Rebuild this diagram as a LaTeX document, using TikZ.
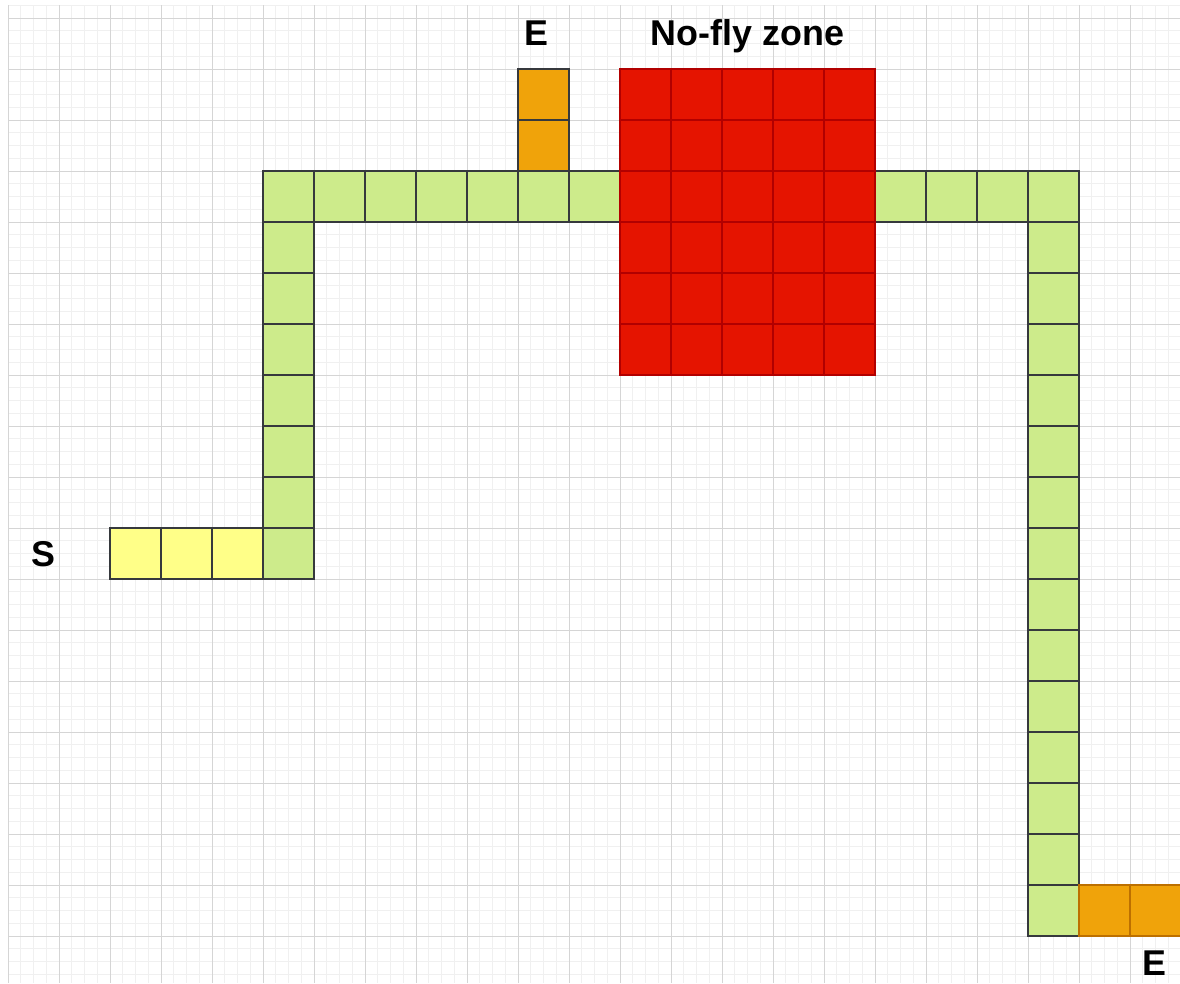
\documentclass[tikz,border=0pt]{standalone}
\usepackage{fontspec}
\setmainfont{Liberation Sans}
\usetikzlibrary{positioning}

\definecolor{pathgreen}{HTML}{CDEB8B}
\definecolor{startyellow}{HTML}{FFFF88}
\definecolor{endorange}{HTML}{F0A30A}
\definecolor{endrim}{HTML}{BD7000}
\definecolor{zonered}{HTML}{E51400}
\definecolor{zonerim}{HTML}{B20000}
\definecolor{cellrim}{HTML}{36393D}
\definecolor{majorline}{HTML}{D5D5D5}
\definecolor{minorline}{HTML}{F0F0F0}

\tikzset{
  minorgrid/.style={draw=minorline, line width=0.5pt},
  majorgrid/.style={draw=majorline, line width=0.5pt},
  pathcell/.style={fill=pathgreen, draw=cellrim, line width=0.8pt},
  startcell/.style={fill=startyellow, draw=cellrim, line width=0.8pt},
  endcell/.style={fill=endorange, draw=endrim, line width=0.8pt},
  zonecell/.style={fill=zonered, draw=zonerim, line width=0.8pt},
  tag/.style={font=\fontsize{20}{24}\selectfont\bfseries, anchor=base, inner sep=0pt}
}

\begin{document}
\begin{tikzpicture}
\useasboundingbox (-0.157,-0.922) rectangle (22.98,18.353);
% background grid
\draw[minorgrid, step=0.25] (0,-0.922) grid (22.98,18.255);
\draw[majorgrid, step=1] (0,-0.922) grid (22.98,18.255);
% start
\foreach \c in {2,3,4}
  \draw[startcell] (\c,7) rectangle ++(1,1);
% flight path
\foreach \r in {7,...,14}
  \draw[pathcell] (5,\r) rectangle ++(1,1);
\foreach \c in {6,...,11}
  \draw[pathcell] (\c,14) rectangle ++(1,1);
\foreach \c in {17,...,20}
  \draw[pathcell] (\c,14) rectangle ++(1,1);
\foreach \r in {0,...,13}
  \draw[pathcell] (20,\r) rectangle ++(1,1);
% no-fly zone
\foreach \c in {12,...,16}
  \foreach \r in {11,...,16}
    \draw[zonecell] (\c,\r) rectangle ++(1,1);
% ends
\foreach \r in {15,16}
  \draw[endcell, draw=cellrim] (10,\r) rectangle ++(1,1);
\foreach \c in {21,22}
  \draw[endcell] (\c,0) rectangle ++(1,1);
% labels
\node[tag] (endtop) at (10.37,17.457) {E};
\node[tag] (zone) at (14.5,17.457) {No-fly zone};
\node[tag] (start) at (0.69,7.24) {S};
\node[tag] (endbottom) at (22.47,-0.765) {E};
\end{tikzpicture}
\end{document}
